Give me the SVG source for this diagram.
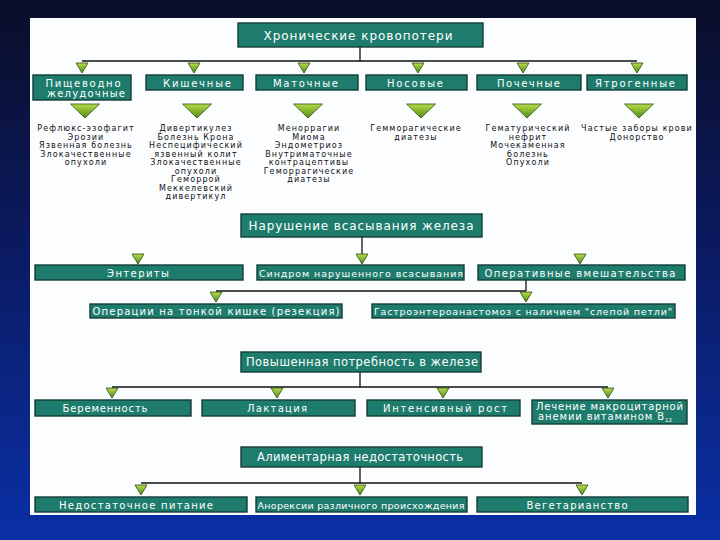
<svg xmlns="http://www.w3.org/2000/svg" xmlns:xlink="http://www.w3.org/1999/xlink" width="720" height="540" viewBox="0 0 720 540">
<style>
.box{fill:#1e7c6c;stroke:#163c36;stroke-width:1.4}
.bt{font-family:"DejaVu Sans",Verdana,sans-serif;font-size:10px;fill:#ffffff;text-anchor:middle}
.bts{font-family:"DejaVu Sans",Verdana,sans-serif;font-size:9.5px;fill:#ffffff;text-anchor:middle}
.bth{font-family:"DejaVu Sans",Verdana,sans-serif;font-size:11.5px;fill:#ffffff;text-anchor:middle}
.lt{font-family:"DejaVu Sans",Verdana,sans-serif;font-size:8px;fill:#111111;text-anchor:middle;letter-spacing:1.1px}
.ln{stroke:#111111;stroke-width:1.3;fill:none}
</style>
<defs>
<linearGradient id="bg" x1="0" y1="0" x2="0" y2="1">
<stop offset="0" stop-color="#0a0e28"/>
<stop offset="0.45" stop-color="#0b1a60"/>
<stop offset="1" stop-color="#0a30a6"/>
</linearGradient>
<linearGradient id="tg" x1="0" y1="0" x2="0" y2="1">
<stop offset="0" stop-color="#b8dc48"/>
<stop offset="1" stop-color="#4f8c1c"/>
</linearGradient>
<path id="ts" d="M-6,0 L6,0 L0,10 Z" fill="url(#tg)" stroke="#2d4a12" stroke-width="0.8"/>
<path id="tl" d="M-14.5,0 L14.5,0 L0,14 Z" fill="url(#tg)" stroke="#2d4a12" stroke-width="0.8"/>
</defs>
<rect x="0" y="0" width="720" height="540" fill="url(#bg)"/>
<rect x="30" y="18" width="666" height="497" fill="#fbfdff"/>

<g id="connectors">
<path class="ln" d="M360,47 V61 M82,61 H637"/>
<use xlink:href="#ts" x="82" y="63"/>
<use xlink:href="#ts" x="194" y="63"/>
<use xlink:href="#ts" x="304" y="63"/>
<use xlink:href="#ts" x="418" y="63"/>
<use xlink:href="#ts" x="523" y="63"/>
<use xlink:href="#ts" x="637" y="63"/>
<use xlink:href="#tl" x="85" y="104"/>
<use xlink:href="#tl" x="197" y="104"/>
<use xlink:href="#tl" x="308" y="104"/>
<use xlink:href="#tl" x="421" y="104"/>
<use xlink:href="#tl" x="527" y="104"/>
<use xlink:href="#tl" x="639" y="104"/>
<path class="ln" d="M362,237 V254"/>
<use xlink:href="#ts" x="138" y="254"/>
<use xlink:href="#ts" x="362" y="254"/>
<use xlink:href="#ts" x="580" y="254"/>
<path class="ln" d="M526,280 V291 M216,291 H526"/>
<use xlink:href="#ts" x="216" y="292"/>
<use xlink:href="#ts" x="526" y="292"/>
<path class="ln" d="M360,372 V387 M112,387 H608"/>
<use xlink:href="#ts" x="112" y="388"/>
<use xlink:href="#ts" x="277" y="388"/>
<use xlink:href="#ts" x="443" y="388"/>
<use xlink:href="#ts" x="608" y="388"/>
<path class="ln" d="M360,467 V483 M141,483 H582"/>
<use xlink:href="#ts" x="141" y="485"/>
<use xlink:href="#ts" x="360" y="485"/>
<use xlink:href="#ts" x="582" y="485"/>
</g>

<g id="n-chronic"><rect class="box" x="238" y="23" width="245" height="24"/><text class="bth" x="358" y="39.5" textLength="189" lengthAdjust="spacing" style="font-size:12px">Хронические кровопотери</text></g>

<g id="n-gi"><rect class="box" x="33" y="75" width="98" height="25"/><text class="bt" x="83" y="86.5" textLength="75" lengthAdjust="spacing">Пищеводно</text><text class="bt" x="86" y="97" textLength="78" lengthAdjust="spacing">желудочные</text></g>
<g id="n-int"><rect class="box" x="146" y="75" width="97" height="15"/><text class="bt" x="197" y="86.5" textLength="68" lengthAdjust="spacing">Кишечные</text></g>
<g id="n-ut"><rect class="box" x="256" y="75" width="102" height="15"/><text class="bt" x="305.5" y="86.5" textLength="65" lengthAdjust="spacing">Маточные</text></g>
<g id="n-nas"><rect class="box" x="366" y="75" width="101" height="15"/><text class="bt" x="415" y="86.5" textLength="56" lengthAdjust="spacing">Носовые</text></g>
<g id="n-ren"><rect class="box" x="477" y="75" width="104" height="15"/><text class="bt" x="528.5" y="86.5" textLength="63" lengthAdjust="spacing">Почечные</text></g>
<g id="n-iat"><rect class="box" x="587" y="75" width="100" height="15"/><text class="bt" x="635" y="86.5" textLength="80" lengthAdjust="spacing">Ятрогенные</text></g>

<g id="l-gi">
<text class="lt" x="86" y="131">Рефлюкс-эзофагит</text>
<text class="lt" x="86" y="139.5">Эрозии</text>
<text class="lt" x="86" y="148">Язвенная болезнь</text>
<text class="lt" x="86" y="156.5">Злокачественные</text>
<text class="lt" x="86" y="165">опухоли</text>
</g>
<g id="l-int">
<text class="lt" x="196" y="131">Дивертикулез</text>
<text class="lt" x="196" y="139.5">Болезнь Крона</text>
<text class="lt" x="196" y="148">Неспецифический</text>
<text class="lt" x="196" y="156.5">язвенный колит</text>
<text class="lt" x="196" y="165">Злокачественные</text>
<text class="lt" x="196" y="173.5">опухоли</text>
<text class="lt" x="196" y="182">Геморрой</text>
<text class="lt" x="196" y="190.5">Меккелевский</text>
<text class="lt" x="196" y="199">дивертикул</text>
</g>
<g id="l-ut">
<text class="lt" x="309" y="131">Меноррагии</text>
<text class="lt" x="309" y="139.5">Миома</text>
<text class="lt" x="309" y="148">Эндометриоз</text>
<text class="lt" x="309" y="156.5">Внутриматочные</text>
<text class="lt" x="309" y="165">контрацептивы</text>
<text class="lt" x="309" y="173.5">Геморрагические</text>
<text class="lt" x="309" y="182">диатезы</text>
</g>
<g id="l-nas">
<text class="lt" x="416" y="131">Гемморагические</text>
<text class="lt" x="416" y="139.5">диатезы</text>
</g>
<g id="l-ren">
<text class="lt" x="528" y="131">Гематурический</text>
<text class="lt" x="528" y="139.5">нефрит</text>
<text class="lt" x="528" y="148">Мочекаменная</text>
<text class="lt" x="528" y="156.5">болезнь</text>
<text class="lt" x="528" y="165">Опухоли</text>
</g>
<g id="l-iat">
<text class="lt" x="637" y="131">Частые заборы крови</text>
<text class="lt" x="637" y="139.5">Донорство</text>
</g>

<g id="n-abs"><rect class="box" x="241" y="214" width="241" height="23"/><text class="bth" x="361" y="229.5" textLength="225" lengthAdjust="spacing" style="font-size:12px">Нарушение всасывания железа</text></g>
<g id="n-ent"><rect class="box" x="35" y="265" width="208" height="15"/><text class="bt" x="138" y="276.5" textLength="62" lengthAdjust="spacing">Энтериты</text></g>
<g id="n-mal"><rect class="box" x="257" y="265" width="207" height="15"/><text class="bts" x="361" y="276.5" textLength="204" lengthAdjust="spacing">Синдром нарушенного всасывания</text></g>
<g id="n-op"><rect class="box" x="478" y="265" width="207" height="15"/><text class="bt" x="580" y="276.5" textLength="191" lengthAdjust="spacing">Оперативные вмешательства</text></g>
<g id="n-res"><rect class="box" x="90" y="304" width="252" height="14"/><text class="bt" x="216" y="314.5" textLength="247" lengthAdjust="spacing">Операции на тонкой кишке (резекция)</text></g>
<g id="n-gas"><rect class="box" x="372" y="304" width="303" height="14"/><text class="bts" x="523" y="314.5" textLength="298" lengthAdjust="spacing">Гастроэнтероанастомоз с наличием "слепой петли"</text></g>

<g id="n-need"><rect class="box" x="241" y="352" width="240" height="20"/><text class="bth" x="362" y="366" textLength="232" lengthAdjust="spacing">Повышенная потребность в железе</text></g>
<g id="n-preg"><rect class="box" x="35" y="400" width="156" height="16"/><text class="bt" x="105" y="411.5" textLength="85" lengthAdjust="spacing">Беременность</text></g>
<g id="n-lact"><rect class="box" x="202" y="400" width="153" height="16"/><text class="bt" x="277" y="411.5" textLength="60" lengthAdjust="spacing">Лактация</text></g>
<g id="n-grow"><rect class="box" x="367" y="400" width="153" height="16"/><text class="bt" x="445" y="411.5" textLength="124" lengthAdjust="spacing">Интенсивный рост</text></g>
<g id="n-b12"><rect class="box" x="532" y="400" width="155" height="24"/><text class="bt" x="609.5" y="410" textLength="147" lengthAdjust="spacing">Лечение макроцитарной</text><text class="bt" x="605" y="420"><tspan textLength="126" lengthAdjust="spacing">анемии витамином В</tspan><tspan style="font-size:5.5px" dy="2">12</tspan></text></g>

<g id="n-ali"><rect class="box" x="241" y="447" width="241" height="20"/><text class="bth" x="360" y="461" textLength="206" lengthAdjust="spacing">Алиментарная недостаточность</text></g>
<g id="n-poor"><rect class="box" x="35" y="497" width="212" height="15"/><text class="bt" x="136" y="508.5" textLength="154" lengthAdjust="spacing">Недостаточное питание</text></g>
<g id="n-anor"><rect class="box" x="256" y="497" width="211" height="15"/><text class="bts" x="361" y="508.5" textLength="207" lengthAdjust="spacing">Анорексии различного происхождения</text></g>
<g id="n-veg"><rect class="box" x="477" y="497" width="211" height="15"/><text class="bt" x="577" y="508.5" textLength="101" lengthAdjust="spacing">Вегетарианство</text></g>
</svg>
